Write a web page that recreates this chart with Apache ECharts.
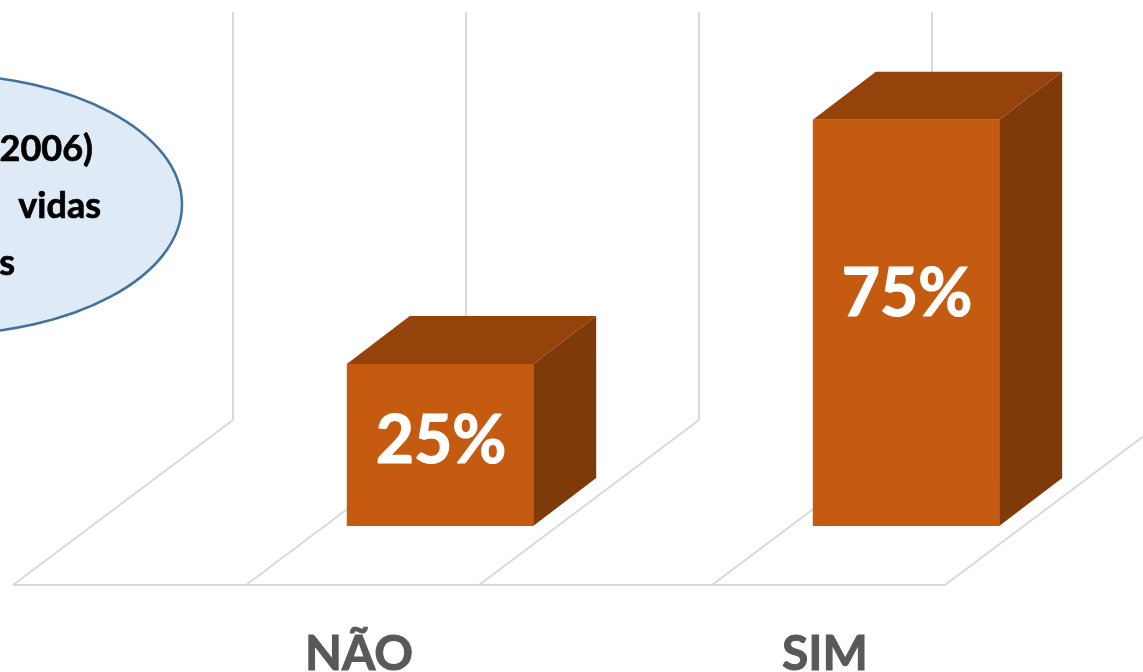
<!DOCTYPE html>
<html lang="pt">
<head>
    <meta charset="UTF-8">
    <script src="https://cdn.jsdelivr.net/npm/echarts@6/dist/echarts.min.js"></script>
    <style>
        *{
            margin: 0;
            padding: 0;
        }
        #chart {
            width: 1143px;
            height: 672px;
            overflow: hidden;
        }
    </style>
</head>
<body>
<div id="chart"></div>
<script>
    var categories = ['NÃO', 'SIM'];
    var values = [25, 75];
    var wallSlots = [0, 1, 2, 3, 4];

    // the picture's 3D bars stand on a base below the floor's zero
    var axisMin = -20.3;
    var axisMax = 97.1;
    var barBase = -8.2;
    var floorBack = 13.5;

    var depthX = 63;
    var depthY = -48;
    var floorDepthX = 220;

    var fontName = 'Lato, "Open Sans", sans-serif';
    var gridColor = '#D9D9D9';

    function renderWall(params, api) {
        var center = api.coord([0, 0])[0];
        var band = api.size([1, 0])[0];
        var x = center - 207 + api.value(1) * band / 2;
        var top = api.coord([0, axisMax])[1];
        var back = api.coord([0, floorBack])[1];
        var front = api.coord([0, axisMin])[1];
        var lineStyle = {stroke: gridColor, lineWidth: 2, fill: 'none'};
        return {
            type: 'group',
            children: [
                {type: 'line', shape: {x1: x, y1: top, x2: x, y2: back}, style: lineStyle},
                {type: 'line', shape: {x1: x, y1: back, x2: x - floorDepthX, y2: front}, style: lineStyle}
            ]
        };
    }

    function renderFloorFront(params, api) {
        var center = api.coord([0, 0])[0];
        var band = api.size([1, 0])[0];
        var front = api.coord([0, axisMin])[1];
        var left = center - 207 - floorDepthX;
        return {
            type: 'line',
            shape: {x1: left, y1: front, x2: left + band * 2, y2: front},
            style: {stroke: gridColor, lineWidth: 2, fill: 'none'}
        };
    }

    function renderBar(params, api) {
        var center = api.coord([api.value(0), 0])[0];
        var width = api.size([1, 0])[0] * 0.4;
        var value = api.value(1);
        var top = api.coord([0, value])[1];
        var base = api.coord([0, barBase])[1];
        var l = center - width / 2;
        var r = center + width / 2;
        var labelY = api.coord([0, value * 0.6 - 5.9])[1];
        return {
            type: 'group',
            children: [
                {
                    type: 'polygon',
                    shape: {points: [[l, top], [r, top], [r + depthX, top + depthY], [l + depthX, top + depthY]]},
                    style: {fill: '#96430B'}
                },
                {
                    type: 'polygon',
                    shape: {points: [[r, top], [r + depthX, top + depthY], [r + depthX, base + depthY], [r, base]]},
                    style: {fill: '#7F3A0A'}
                },
                {
                    type: 'rect',
                    shape: {x: l, y: top, width: width, height: base - top},
                    style: {fill: '#C55A11'}
                },
                {
                    type: 'text',
                    x: center + 1,
                    y: labelY,
                    style: {
                        text: value + '%',
                        fill: '#FFFFFF',
                        stroke: '#FFFFFF',
                        lineWidth: 1.2,
                        font: 'bold 66px ' + fontName,
                        align: 'center',
                        verticalAlign: 'middle'
                    }
                }
            ]
        };
    }

    function noteStyle(text) {
        return {
            text: text,
            fill: '#000000',
            stroke: '#000000',
            lineWidth: 0.7,
            font: 'bold 36px ' + fontName,
            align: 'right',
            verticalAlign: 'middle'
        };
    }

    var myChart = echarts.init(document.getElementById('chart'));

    var option = {
        animation: false,
        backgroundColor: '#FFFFFF',
        grid: {left: 207, right: 4, top: 12, bottom: 87, outerBoundsMode: 'none'},
        xAxis: {
            type: 'category',
            data: categories,
            axisLine: {show: false},
            axisTick: {show: false},
            splitLine: {show: false},
            axisLabel: {
                color: '#595959',
                textBorderColor: '#595959',
                textBorderWidth: 1,
                fontFamily: 'Lato, "Open Sans", sans-serif',
                fontWeight: 'bold',
                fontSize: 48,
                margin: 46,
                padding: [0, 162, 0, 0]
            }
        },
        yAxis: {
            type: 'value',
            min: axisMin,
            max: axisMax,
            show: false
        },
        series: [
            {
                type: 'custom',
                silent: true,
                renderItem: renderWall,
                data: wallSlots.map(function (k) { return [0, k]; }),
                z: 1
            },
            {
                type: 'custom',
                silent: true,
                renderItem: renderFloorFront,
                data: [[0, 0]],
                z: 1
            },
            {
                type: 'custom',
                silent: true,
                renderItem: renderBar,
                data: values.map(function (v, i) { return [i, v]; }),
                z: 2
            }
        ],
        graphic: [
            {
                type: 'ellipse',
                shape: {cx: -60, cy: 204.5, rx: 242, ry: 130},
                style: {fill: '#DEEAF6', stroke: '#41719C', lineWidth: 2.5},
                z: 5
            },
            {type: 'text', x: 93, y: 149, style: noteStyle('2006)'), z: 6},
            {type: 'text', x: 101, y: 206, style: noteStyle('vidas'), z: 6},
            {type: 'text', x: 15, y: 263, style: noteStyle('s'), z: 6}
        ]
    };

    myChart.setOption(option);
</script>
</body>
</html>
